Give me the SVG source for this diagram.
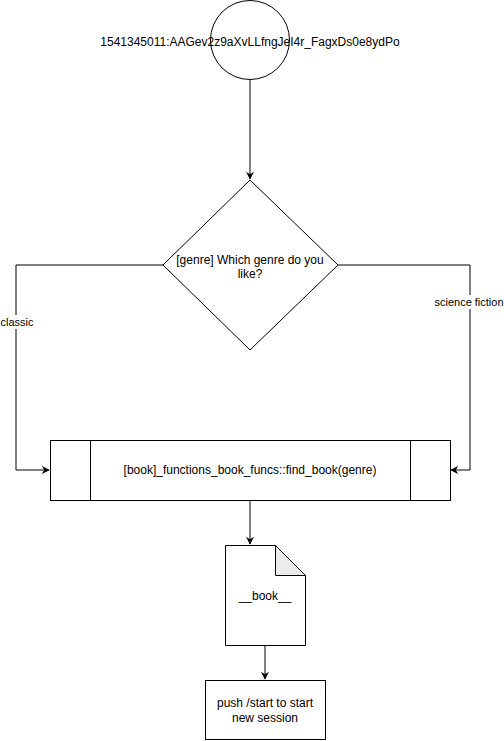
<svg xmlns="http://www.w3.org/2000/svg" width="504" height="741" viewBox="0 0 504 741">
<style>
.s{fill:#fff;stroke:#000;stroke-width:1}
.t{font-family:"Liberation Sans",Arial,sans-serif;font-size:12px;fill:#000;text-anchor:middle}
.e{fill:none;stroke:#000;stroke-width:1}
.lb{font-family:"Liberation Sans",Arial,sans-serif;font-size:11px;fill:#000;text-anchor:middle}
</style>
<defs>
<marker id="a" viewBox="0 0 10 10" refX="9" refY="5" markerWidth="8" markerHeight="8" markerUnits="userSpaceOnUse" orient="auto">
<path d="M0,0 L10,5 L0,10 L3,5 Z" fill="#000"/>
</marker>
</defs>
<rect width="504" height="741" fill="#fff"/>
<g id="connectors">
<path class="e" d="M250,80 V179" marker-end="url(#a)"/>
<path class="e" d="M163,265 H16 V470 H49" marker-end="url(#a)"/>
<path class="e" d="M338,265 H470 V470 H451" marker-end="url(#a)"/>
<path class="e" d="M250,500 V544" marker-end="url(#a)"/>
<path class="e" d="M265,645 V679" marker-end="url(#a)"/>
<rect x="0" y="315" width="34" height="14" fill="#fff"/>
<text class="lb" x="17" y="326">classic</text>
<rect x="435" y="295" width="69" height="14" fill="#fff"/>
<text class="lb" x="469" y="306">science fiction</text>
</g>
<g id="start">
<circle class="s" cx="250" cy="40" r="39.5"/>
<text class="t" x="250" y="46">1541345011:AAGev2z9aXvLLfngJeI4r_FagxDs0e8ydPo</text>
</g>
<g id="genre">
<polygon class="s" points="250,180 338,265 250,350 163,265"/>
<text class="t" x="250" y="264">[genre] Which genre do you</text>
<text class="t" x="250" y="278">like?</text>
</g>
<g id="book_func">
<rect class="s" x="50.5" y="440.5" width="400" height="60"/>
<path class="e" d="M90.5,440.5 V500.5 M410.5,440.5 V500.5"/>
<text class="t" x="250" y="474">[book]_functions_book_funcs::find_book(genre)</text>
</g>
<g id="book_doc">
<path class="s" d="M225.5,545.5 H275.5 L305.5,575.5 V645.5 H225.5 Z"/>
<path d="M275.5,545.5 V575.5 H305.5 Z" fill="#ececec" stroke="#000" stroke-width="1"/>
<text class="t" x="265" y="600">__book__</text>
</g>
<g id="end">
<rect class="s" x="205.5" y="680.5" width="120" height="59"/>
<text class="t" x="265" y="707">push /start to start</text>
<text class="t" x="265" y="722">new session</text>
</g>
</svg>
